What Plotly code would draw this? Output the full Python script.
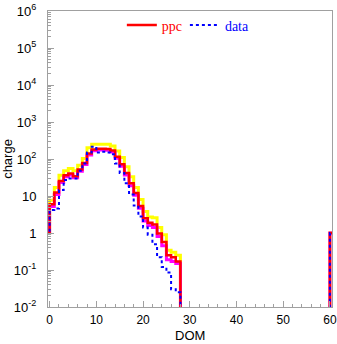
import plotly.graph_objects as go

# ---------------- data (bin index = DOM, bins [k, k+1)) ----------------
dom_bins = list(range(0, 28))
ppc = [6.0, 12.5, 25.6, 36.5, 40.6, 34.4, 52, 78, 140, 182, 190, 190, 186, 170,
       115, 72, 42, 22, 12, 5.4, 2.5, 1.9, 1.7, 0.97, 0.57, 0.25, 0.22, 0.17]
ppc_hi = [7.7, 17, 36.5, 48, 55, 48, 68, 103, 200, 250, 252, 252, 250, 225,
          165, 110, 62, 33, 17, 8.0, 3.8, 2.7, 2.6, 1.4, 0.9, 0.34, 0.30, 0.25]
ppc_lo = [5.2, 11.0, 23, 33, 37, 31, 47, 71, 128, 168, 176, 176, 172, 155,
          104, 64, 37, 19, 10.5, 4.7, 2.1, 1.6, 1.4, 0.8, 0.45, 0.19, 0.17, 0.15]
data = [4.2, 4.6, 14.5, 27, 29.5, 29.5, 48, 76, 150, 215, 150, 156, 150, 135,
        75, 42, 22, 11, 5.5, 2.8, 1.4, 0.9, 0.5, 0.22, 0.12, 0.085, 0.03, 0.025]
# isolated bins outside the main block
extra_bins = [-1, 60]
extra_vals = [1.0, 1.0]

x_ticks = [0, 10, 20, 30, 40, 50, 60]
y_exps = [-2, -1, 0, 1, 2, 3, 4, 5, 6]
y_ticktext = ["10<sup>-2</sup>", "10<sup>-1</sup>", "1", "10", "10<sup>2</sup>",
              "10<sup>3</sup>", "10<sup>4</sup>", "10<sup>5</sup>", "10<sup>6</sup>"]
x_title = "DOM"
y_title = "charge"

X_RANGE = [-0.35, 60.45]
Y_LOG_RANGE = [-2, 6]
FLOOR = 10 ** (Y_LOG_RANGE[0] - 1)  # empty bins drawn below the frame


def step_xy(values):
    full = {b: v for b, v in zip(dom_bins, values)}
    full.update({b: v for b, v in zip(extra_bins, extra_vals)})
    lo, hi = min(full), max(full)
    xs, ys = [], []
    for b in range(lo, hi + 1):
        xs.append(b)
        ys.append(full.get(b, FLOOR))
    xs.append(hi + 1)
    ys.append(ys[-1])
    return xs, ys


fig = go.Figure()

for vals, col, w in [(ppc_hi, "#ffff00", 3), (ppc_lo, "#ff00ff", 3)]:
    xs, ys = step_xy(vals)
    fig.add_trace(go.Scatter(x=xs, y=ys, mode="lines", line_shape="hv",
                             line=dict(color=col, width=w), showlegend=False,
                             hoverinfo="skip"))

xs, ys = step_xy(ppc)
fig.add_trace(go.Scatter(x=xs, y=ys, mode="lines", line_shape="hv",
                         line=dict(color="#ff0000", width=2.5),
                         name='<span style="color:#ff0000">ppc</span>',
                         legend="legend"))
xs, ys = step_xy(data)
fig.add_trace(go.Scatter(x=xs, y=ys, mode="lines", line_shape="hv",
                         line=dict(color="#0000ff", width=2, dash="dot"),
                         name='<span style="color:#0000ff">data</span>',
                         legend="legend2"))

minor_y = [m * 10 ** e for e in range(-2, 6) for m in range(2, 10)]
frame_col = "#a0a0a0"
legend_font = dict(family="Liberation Serif, Times New Roman, serif", size=14)

fig.update_layout(
    template="none",
    width=337, height=344,
    margin=dict(l=48, r=5, t=11, b=37, pad=0),
    paper_bgcolor="white", plot_bgcolor="white",
    font=dict(family="Liberation Sans, Arial, sans-serif", size=12, color="black"),
    legend=dict(orientation="h", x=0.26, xanchor="left", y=1.005, yanchor="top",
                bgcolor="rgba(0,0,0,0)", itemwidth=30, font=legend_font),
    legend2=dict(orientation="h", x=0.482, xanchor="left", y=1.005, yanchor="top",
                 bgcolor="rgba(0,0,0,0)", itemwidth=30, font=legend_font),
    xaxis=dict(range=X_RANGE, tickvals=x_ticks, ticks="inside", ticklen=6,
               tickcolor=frame_col, showline=True, linecolor=frame_col, linewidth=1,
               mirror=True, showgrid=False, zeroline=False, automargin=False,
               tickfont=dict(size=12), ticklabelstandoff=2,
               ticklabeloverflow="allow",
               minor=dict(dtick=2, ticks="inside", ticklen=3, tickcolor=frame_col,
                          showgrid=False)),
    yaxis=dict(type="log", range=Y_LOG_RANGE,
               tickvals=[10 ** e for e in y_exps], ticktext=y_ticktext,
               ticks="inside", ticklen=6, tickcolor=frame_col,
               showline=True, linecolor=frame_col, linewidth=1, mirror=True,
               showgrid=False, zeroline=False, automargin=False,
               tickfont=dict(size=13), ticklabelstandoff=8,
               ticklabeloverflow="allow",
               minor=dict(tickvals=minor_y, ticks="inside", ticklen=3,
                          tickcolor=frame_col, showgrid=False),
               title=dict(text=y_title, font=dict(size=13), standoff=2)),
    annotations=[dict(text=x_title, xref="paper", yref="paper", x=0.5, y=-0.097,
                      xanchor="center", yanchor="middle", showarrow=False,
                      borderpad=0, font=dict(size=13))],
)

fig.write_html("out.html")
